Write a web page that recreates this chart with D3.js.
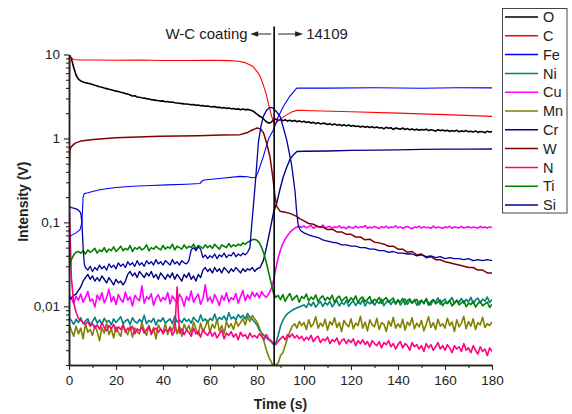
<!DOCTYPE html>
<html><head><meta charset="utf-8">
<script src="https://cdn.jsdelivr.net/npm/d3@7"></script>
<style>body{margin:0;background:#fff} svg{display:block} text{font-family:"Liberation Sans",Arial,sans-serif}</style>
</head><body><svg id="c" width="572" height="414"></svg>
<script>
// ---------- DATA ----------
const time = d3.range(0, 181, 1); // 1 s sampling grid
const oxygen = [9.8,9.0,7.0,5.7,5.1,4.85,4.7,4.62,4.55,4.48,
4.40,4.30,4.22,4.12,4.08,3.98,3.92,3.85,3.80,3.72,
3.66,3.62,3.55,3.50,3.42,3.38,3.30,3.20,3.22,3.12,
3.10,3.05,3.02,2.98,2.95,2.90,2.88,2.84,2.83,2.78,
2.80,2.74,2.76,2.70,2.71,2.66,2.64,2.62,2.60,2.58,
2.57,2.55,2.52,2.54,2.48,2.50,2.45,2.46,2.42,2.44,
2.40,2.38,2.40,2.34,2.36,2.31,2.33,2.28,2.30,2.26,
2.27,2.23,2.25,2.20,2.24,2.19,2.22,2.18,2.14,2.05,
1.95,1.85,1.78,1.68,1.58,1.52,1.56,1.66,1.70,1.64,
1.68,1.63,1.67,1.61,1.65,1.60,1.64,1.58,1.62,1.57,
1.60,1.55,1.58,1.52,1.56,1.50,1.54,1.49,1.52,1.51,
1.47,1.50,1.45,1.49,1.44,1.47,1.42,1.46,1.41,1.45,
1.40,1.43,1.39,1.41,1.37,1.40,1.36,1.39,1.35,1.38,
1.34,1.37,1.33,1.35,1.30,1.36,1.32,1.34,1.28,1.33,
1.31,1.29,1.33,1.28,1.31,1.27,1.30,1.26,1.29,1.25,
1.28,1.26,1.29,1.24,1.27,1.25,1.22,1.27,1.24,1.26,
1.23,1.25,1.21,1.24,1.22,1.25,1.20,1.23,1.21,1.24,
1.20,1.22,1.19,1.23,1.18,1.21,1.20,1.17,1.22,1.19,
1.21];
const carbon = [[0,2.7],[0.4,9.8],[1,9.2],[2,8.7],[4,8.6],[10,8.6],[20,8.55],[30,8.6],[40,8.5],[50,8.5],[60,8.55],[68,8.45],[72,8.3],[75,8.0],[78,7.3],[80,6.3],[81.3,5.5],[82.5,4.5],[84,3.3],[85,2.5],[86.2,1.85],[87.5,1.46],[89,1.63],[92,1.87],[95,2.08],[97,2.16],[100,2.15],[120,2.08],[140,2.0],[160,1.92],[180,1.83]];
const iron = [[0,0.065],[1,0.07],[3,0.075],[4.7,0.082],[5.5,0.1],[6,0.2],[6.5,0.22],[8,0.225],[13,0.245],[20,0.26],[27,0.27],[35,0.275],[41.6,0.28],[50,0.285],[55.7,0.29],[56.5,0.31],[57.5,0.32],[65,0.335],[72.8,0.353],[76,0.35],[78,0.34],[79.5,0.345],[80.5,0.4],[82.7,0.61],[85,1.0],[87,1.27],[89,1.8],[91.2,2.4],[94,3.2],[96.9,3.98],[110,3.98],[130,4.02],[150,3.97],[165,4.02],[180,4.0]];
const nickel = [.0072,.0068,.0061,.0070,.0064,.0073,.0062,.0067,.0071,.0060,
.0066,.0074,.0063,.0069,.0061,.0072,.0065,.0068,.0060,.0071,
.0064,.0069,.0075,.0062,.0067,.0070,.0061,.0073,.0066,.0063,
.0070,.0064,.0078,.0062,.0068,.0065,.0072,.0060,.0069,.0066,
.0073,.0063,.0067,.0071,.0062,.0076,.0065,.0069,.0064,.0072,
.0066,.0070,.0063,.0074,.0068,.0065,.0079,.0067,.0071,.0064,
.0072,.0068,.0081,.0066,.0074,.0070,.0077,.0067,.0084,.0071,
.0075,.0069,.0080,.0073,.0078,.0071,.0082,.0074,.0070,.0065,
.0060,.0052,.0048,.0045,.0042,.0040,.0038,.0035,.0036,.0045,
.0058,.0068,.0076,.0082,.0086,.0090,.0093,.0096,.0098,.0101,
.0104,.0097,.0110,.0101,.0112,.0098,.0107,.0114,.0100,.0111,
.0104,.0115,.0099,.0109,.0117,.0101,.0112,.0105,.0118,.0100,
.0109,.0116,.0102,.0113,.0106,.0120,.0101,.0114,.0107,.0117,
.0103,.0115,.0108,.0122,.0102,.0112,.0118,.0105,.0116,.0109,
.0120,.0104,.0113,.0123,.0106,.0117,.0109,.0121,.0103,.0114,
.0119,.0107,.0124,.0110,.0104,.0120,.0112,.0126,.0106,.0116,
.0122,.0108,.0117,.0127,.0107,.0119,.0112,.0124,.0109,.0121,
.0113,.0128,.0108,.0119,.0125,.0110,.0122,.0115,.0129,.0111,
.0121];
const copper = [.0140,.0125,.0108,.0132,.0118,.0140,.0112,.0128,.0150,.0115,
.0122,.0098,.0136,.0119,.0145,.0110,.0127,.0160,.0113,.0131,
.0105,.0138,.0121,.0112,.0148,.0118,.0129,.0101,.0135,.0124,
.0116,.0175,.0109,.0130,.0122,.0141,.0103,.0126,.0137,.0114,
.0128,.0119,.0146,.0107,.0133,.0120,.0111,.0139,.0125,.0100,
.0131,.0117,.0152,.0112,.0127,.0140,.0106,.0123,.0180,.0115,
.0129,.0110,.0138,.0121,.0102,.0134,.0118,.0145,.0113,.0127,
.0120,.0142,.0109,.0131,.0155,.0116,.0137,.0124,.0148,.0130,
.0144,.0126,.0150,.0135,.0128,.0141,.0160,.0200,.0280,.0380,
.0470,.0560,.0630,.0700,.0760,.0810,.0850,.0880,.0900,.0870,
.0910,.0860,.0890,.0920,.0850,.0880,.0900,.0870,.0930,.0860,
.0880,.0900,.0850,.0890,.0870,.0910,.0860,.0880,.0840,.0895,
.0870,.0850,.0905,.0860,.0885,.0875,.0915,.0850,.0880,.0860,
.0895,.0870,.0845,.0890,.0865,.0900,.0855,.0880,.0870,.0910,
.0860,.0885,.0850,.0875,.0895,.0865,.0840,.0880,.0870,.0900,
.0855,.0890,.0865,.0875,.0850,.0905,.0860,.0880,.0870,.0845,
.0885,.0865,.0900,.0850,.0880,.0870,.0860,.0895,.0855,.0875,
.0890,.0860,.0880,.0870,.0850,.0895,.0865,.0880,.0855,.0885,
.0870];
const manganese = [.0060,.0052,.0044,.0058,.0047,.0055,.0041,.0062,.0049,.0053,
.0045,.0059,.0050,.0039,.0056,.0048,.0063,.0046,.0054,.0042,
.0057,.0049,.0044,.0061,.0051,.0046,.0058,.0043,.0055,.0050,
.0047,.0064,.0052,.0045,.0059,.0048,.0056,.0041,.0060,.0053,
.0049,.0062,.0046,.0057,.0051,.0066,.0047,.0058,.0044,.0061,
.0052,.0059,.0048,.0065,.0054,.0046,.0063,.0050,.0057,.0068,
.0049,.0061,.0055,.0070,.0051,.0059,.0047,.0066,.0056,.0062,
.0053,.0068,.0058,.0064,.0072,.0060,.0075,.0066,.0078,.0071,
.0065,.0056,.0046,.0038,.0030,.0025,.0022,.0019,.0020,.0021,
.0026,.0028,.0034,.0042,.0050,.0058,.0062,.0055,.0066,.0059,
.0064,.0053,.0069,.0057,.0062,.0075,.0055,.0063,.0058,.0070,
.0052,.0066,.0060,.0073,.0056,.0064,.0050,.0068,.0061,.0057,
.0071,.0054,.0063,.0059,.0076,.0055,.0065,.0051,.0069,.0060,
.0057,.0072,.0053,.0064,.0061,.0050,.0067,.0058,.0074,.0055,
.0062,.0056,.0070,.0052,.0065,.0059,.0073,.0054,.0063,.0057,
.0068,.0051,.0061,.0075,.0056,.0064,.0053,.0070,.0058,.0062,
.0055,.0072,.0059,.0065,.0050,.0069,.0057,.0063,.0076,.0054,
.0066,.0058,.0071,.0053,.0064,.0060,.0074,.0056,.0062,.0059,
.0065];
const chromium = [[0,0.012],[1,0.0125],[2,0.0135],[3,0.014],[4,0.0155],[5,0.017],[6,0.02],
[7,.022],[8,.024],[9,.021],[10,.023],[11,.020],[12,.022],[13,.020],[14,.023],[15,.021],[16,.019],[17,.022],[18,.020],[19,.018],[20,.021],
[21,.019],[22,.020],[23,.018],[24,.020],[25,.024],[26,.026],[27,.023],[28,.025],[29,.022],[30,.026],[31,.024],[32,.022],[33,.025],[34,.023],
[35,.026],[36,.022],[37,.024],[38,.021],[39,.025],[40,.023],[41,.021],[42,.024],[43,.022],[44,.025],[45,.021],[46,.024],[47,.022],[48,.020],
[49,.024],[50,.022],[51,.025],[52,.021],[53,.023],[54,.020],[55,.024],[56,.022],[57,.027],[58,.029],[59,.026],[60,.028],[61,.025],[62,.029],
[63,.026],[64,.028],[65,.025],[66,.029],[67,.027],[68,.025],[69,.028],[70,.026],[71,.029],[72,.027],[73,.025],[74,.028],[75,.026],[76,.028],
[77,.027],[78,.029],[79,.026],[80,.028],
[81.3,0.029],[82.7,0.035],[84,0.05],[85.5,0.08],[87,0.13],[88.4,0.17],[89.8,0.25],[91.2,0.35],[92.6,0.45],[94,0.56],[95.5,0.64],[97,0.70],
[100,0.705],[110,0.71],[120,0.72],[130,0.725],[140,0.73],[150,0.74],[160,0.745],[170,0.745],[180,0.75]];
const tungsten = [[0,0.3],[0.4,0.73],[1,0.8],[2.6,0.88],[5,0.93],[10.4,0.97],[20,1.02],[38.7,1.06],[55,1.08],[65,1.1],[72.8,1.11],[76,1.18],[78,1.26],[80,1.33],[81.5,1.3],[82.8,1.16],[84,0.9],[85.5,0.61],[86.3,0.42],[87,0.3],[87.7,0.2],[88.4,0.155],[89.8,0.136],[92,0.132],[94,0.128],[96.9,0.118],[98.3,0.11],
[100,.104],[102,.097],[104,.095],[106,.089],[108,.088],[110,.082],[112,.083],[114,.077],[116,.077],[118,.072],[120,.072],[122,.067],[124,.067],[126,.062],[128,.063],[130,.058],[132,.057],[134,.055],[136,.052],[138,.052],[140,.048],
[142,.048],[144,.044],[146,.045],[148,.041],[150,.042],[152,.038],[154,.039],[156,.036],[158,.036],[160,.034],[162,.033],[164,.032],[166,.031],[168,.030],[170,.029],[172,.029],[174,.027],[176,.027],[178,.025],[180,.025]];
const nitrogen = [.20,.022,.011,.0085,.0072,.0068,.0064,.0061,.0066,.0058,
.0062,.0055,.0060,.0053,.0064,.0056,.0051,.0059,.0054,.0061,
.0050,.0057,.0053,.0060,.0049,.0055,.0052,.0058,.0047,.0054,
.0051,.0056,.0048,.0053,.0058,.0046,.0052,.0055,.0049,.0054,
.0047,.0053,.0050,.0056,.0045,.0051,.0170,.0048,.0054,.0046,
.0052,.0049,.0044,.0055,.0047,.0050,.0043,.0053,.0048,.0045,
.0051,.0044,.0049,.0042,.0047,.0052,.0041,.0048,.0045,.0050,
.0043,.0047,.0040,.0049,.0044,.0046,.0041,.0048,.0043,.0045,
.0042,.0047,.0044,.0040,.0046,.0041,.0039,.0036,.0035,.0038,
.0041,.0044,.0040,.0046,.0043,.0047,.0042,.0045,.0041,.0044,
.0039,.0043,.0040,.0045,.0038,.0042,.0044,.0037,.0041,.0039,
.0043,.0036,.0040,.0038,.0042,.0035,.0039,.0041,.0036,.0040,
.0037,.0041,.0034,.0039,.0036,.0040,.0035,.0038,.0033,.0039,
.0036,.0034,.0038,.0032,.0037,.0035,.0039,.0033,.0036,.0031,
.0035,.0038,.0032,.0036,.0034,.0030,.0037,.0033,.0035,.0031,
.0034,.0029,.0036,.0032,.0035,.0030,.0033,.0037,.0031,.0034,
.0030,.0035,.0032,.0028,.0034,.0031,.0033,.0029,.0036,.0030,
.0032,.0028,.0034,.0030,.0027,.0033,.0029,.0031,.0026,.0032,
.0029];
const titanium = [.028,.036,.041,.044,.045,.043,.046,.042,.047,.044,
.046,.049,.043,.047,.045,.050,.044,.048,.046,.051,
.045,.048,.052,.046,.049,.047,.053,.045,.050,.048,
.051,.047,.049,.054,.046,.050,.048,.052,.049,.047,
.053,.048,.051,.049,.055,.047,.052,.050,.048,.054,
.049,.052,.050,.055,.048,.053,.051,.049,.054,.050,
.053,.049,.055,.051,.048,.054,.052,.050,.056,.051,
.054,.052,.055,.053,.057,.055,.058,.060,.062,.063,
.061,.057,.050,.042,.033,.025,.019,.0145,.0128,.0135,
.0120,.0138,.0115,.0130,.0142,.0118,.0127,.0135,.0112,.0131,
.0124,.0140,.0116,.0129,.0121,.0137,.0113,.0126,.0133,.0117,
.0128,.0120,.0136,.0111,.0125,.0132,.0115,.0123,.0130,.0112,
.0126,.0118,.0133,.0110,.0124,.0129,.0114,.0121,.0131,.0109,
.0122,.0116,.0128,.0108,.0120,.0127,.0111,.0119,.0125,.0106,
.0118,.0113,.0124,.0105,.0117,.0123,.0109,.0115,.0121,.0104,
.0116,.0110,.0122,.0103,.0114,.0120,.0107,.0113,.0119,.0102,
.0112,.0108,.0118,.0101,.0111,.0117,.0104,.0110,.0116,.0099,
.0109,.0105,.0115,.0098,.0108,.0114,.0101,.0107,.0112,.0097,
.0106];
const silicon = [[0,0.155],[1,0.15],[2,0.148],[3,0.145],[4,0.14],[5,0.13],[5.5,0.1],[6,0.05],[6.5,0.032],
[7,.029],[8,.027],[9,.030],[10,.026],[11,.029],[12,.027],[13,.031],[14,.028],[15,.030],[16,.027],[17,.032],[18,.029],[19,.031],[20,.028],
[21,.033],[22,.030],[23,.032],[24,.029],[25,.034],[26,.031],[27,.033],[28,.030],[29,.035],[30,.031],[31,.033],[32,.030],[33,.035],[34,.032],
[35,.034],[36,.031],[37,.036],[38,.032],[39,.034],[40,.031],[41,.035],[42,.033],[43,.031],[44,.036],[45,.032],[46,.034],[47,.031],[48,.035],
[49,.033],[50,.032],[51,.035],[52,.047],[53,.050],[54,.046],[55,.051],[56,.048],[57,.038],[58,.041],[59,.037],[60,.040],[61,.038],[62,.042],
[63,.037],[64,.041],[65,.039],[66,.043],[67,.038],[68,.041],[69,.040],[70,.044],[71,.039],[72,.042],[73,.040],[74,.043],[75,.041],[76,.044],
[77,0.05],[77.7,0.09],[78.4,0.15],[79.5,0.35],[80.6,0.9],[81.7,1.4],[82.7,1.83],[84,2.15],[85,2.3],[86,2.34],[87,2.28],[88.5,2.05],[89.8,1.83],
[91.2,1.35],[92.6,0.97],[93.7,0.68],[94.8,0.47],[95.5,0.33],[96.2,0.23],[96.9,0.13],[97.6,0.09],[98.5,0.08],[100,0.075],
[102,.071],[104,.068],[106,.066],[108,.062],[110,.060],[112,.058],[114,.057],[116,.054],[118,.054],[120,.052],[122,.052],[124,.050],[126,.050],
[128,.048],[130,.048],[132,.046],[134,.046],[136,.044],[138,.045],[140,.043],[142,.043],[144,.042],[146,.042],[148,.040],[150,.041],[152,.039],
[154,.040],[156,.038],[158,.039],[160,.037],[162,.038],[164,.037],[166,.037],[168,.036],[170,.037],[172,.035],[174,.036],[176,.035],[178,.036],[180,.035]];

const elements = ["O","C","Fe","Ni","Cu","Mn","Cr","W","N","Ti","Si"];
const colors = ["#000000","#ff0000","#0000ff","#008080","#ff00ff","#808000","#000080","#800000","#ff0080","#008000","#0000a0"];
const widths = [1.6,1.1,1.1,1.6,1.6,1.6,1.4,1.5,1.6,1.6,1.3];
const xTickValues = [0,20,40,60,80,100,120,140,160,180];
const yTickValues = [10,1,0.1,0.01];
const yTickLabels = ["10","1","0,1","0,01"];
const interfaceTime = 87.3;
const leftNote = "W-C coating";
const rightNote = "14109";
const xTitle = "Time (s)";
const yTitle = "Intensity (V)";

// ---------- CHART ----------
const uni = arr => time.map((t, i) => [t, arr[i]]);
const seriesData = [uni(oxygen), carbon, iron, uni(nickel), uni(copper), uni(manganese), chromium, tungsten, uni(nitrogen), uni(titanium), silicon];

const svg = d3.select("#c");
const L = 69, R = 492, T = 54.5, B = 365;
const x = d3.scaleLinear().domain([0, 180]).range([L, R]);
const y = d3.scaleLog().domain([0.002, 10]).range([B, T]);

svg.append("defs").append("clipPath").attr("id", "clip")
  .append("rect").attr("x", L).attr("y", T - 1).attr("width", R - L).attr("height", B - T + 1);

const line = d3.line().x(d => x(d[0])).y(d => y(Math.max(d[1], 1e-4)));
const gLines = svg.append("g").attr("clip-path", "url(#clip)");
seriesData.forEach((s, i) => {
  gLines.append("path").datum(s).attr("d", line)
    .attr("fill", "none").attr("stroke", colors[i]).attr("stroke-width", widths[i])
    .attr("stroke-linejoin", "round");
});

// axes
const axisCol = "#222";
const xMinor = d3.range(10, 180, 20);
const yMinor = [];
[0.001, 0.01, 0.1, 1].forEach(d => { for (let k = 2; k <= 9; k++) { const v = d * k; if (v >= 0.002 && v < 10) yMinor.push(v); } });

const gxm = svg.append("g").attr("transform", `translate(0,${B})`)
  .call(d3.axisBottom(x).tickValues(xMinor).tickSize(3).tickFormat("").tickSizeOuter(0));
const gx = svg.append("g").attr("transform", `translate(0,${B})`)
  .call(d3.axisBottom(x).tickValues(xTickValues).tickSize(5).tickPadding(5).tickSizeOuter(0));
const gym = svg.append("g").attr("transform", `translate(${L},0)`)
  .call(d3.axisLeft(y).tickValues(yMinor).tickSize(3).tickFormat("").tickSizeOuter(0));
const gy = svg.append("g").attr("transform", `translate(${L},0)`)
  .call(d3.axisLeft(y).tickValues(yTickValues).tickFormat((d, i) => yTickLabels[i]).tickSize(5).tickPadding(4).tickSizeOuter(0));

[gxm, gx, gym, gy].forEach(g => {
  g.select(".domain").attr("stroke", axisCol).attr("stroke-width", 1.5);
  g.selectAll(".tick line").attr("stroke", axisCol).attr("stroke-width", 1.1);
  g.selectAll(".tick text").attr("fill", axisCol).style("font-size", "13.5px").style("font-family", '"Liberation Sans",Arial,sans-serif');
});

svg.append("text").attr("x", (L + R) / 2).attr("y", 409).attr("text-anchor", "middle")
  .style("font-weight", "bold").style("font-size", "14px").attr("fill", axisCol).text(xTitle);
svg.append("text").attr("transform", `translate(28,${(T + B) / 2 - 8}) rotate(-90)`).attr("text-anchor", "middle")
  .style("font-weight", "bold").style("font-size", "14px").attr("fill", axisCol).text(yTitle);

// interface line and annotation
const xi = x(interfaceTime);
svg.append("line").attr("x1", xi).attr("x2", xi).attr("y1", 26.5).attr("y2", B)
  .attr("stroke", "#000").attr("stroke-width", 1.6);
const ay = 34;
svg.append("line").attr("x1", xi - 3).attr("x2", xi - 20).attr("y1", ay).attr("y2", ay).attr("stroke", "#222").attr("stroke-width", 1);
svg.append("path").attr("d", `M${xi - 24},${ay} L${xi - 16},${ay - 2.8} L${xi - 16},${ay + 2.8} Z`).attr("fill", "#222");
svg.append("line").attr("x1", xi + 4).attr("x2", xi + 22).attr("y1", ay).attr("y2", ay).attr("stroke", "#222").attr("stroke-width", 1);
svg.append("path").attr("d", `M${xi + 29},${ay} L${xi + 21},${ay - 2.8} L${xi + 21},${ay + 2.8} Z`).attr("fill", "#222");
svg.append("text").attr("x", xi - 26.5).attr("y", ay + 5).attr("text-anchor", "end").style("font-size", "15px").attr("fill", "#222").text(leftNote);
svg.append("text").attr("x", xi + 32).attr("y", ay + 5).attr("text-anchor", "start").style("font-size", "15px").attr("fill", "#222").text(rightNote);

// legend
const lg = svg.append("g");
lg.append("rect").attr("x", 502.5).attr("y", 8.5).attr("width", 64.5).attr("height", 204.5)
  .attr("fill", "#fff").attr("stroke", "#444").attr("stroke-width", 1);
elements.forEach((e, i) => {
  const yy = 17 + i * 18.8;
  lg.append("line").attr("x1", 505).attr("x2", 538).attr("y1", yy).attr("y2", yy)
    .attr("stroke", colors[i]).attr("stroke-width", 1.5);
  lg.append("text").attr("x", 543).attr("y", yy + 5.2).style("font-size", "14.5px").attr("fill", "#222").text(e);
});
</script></body></html>
